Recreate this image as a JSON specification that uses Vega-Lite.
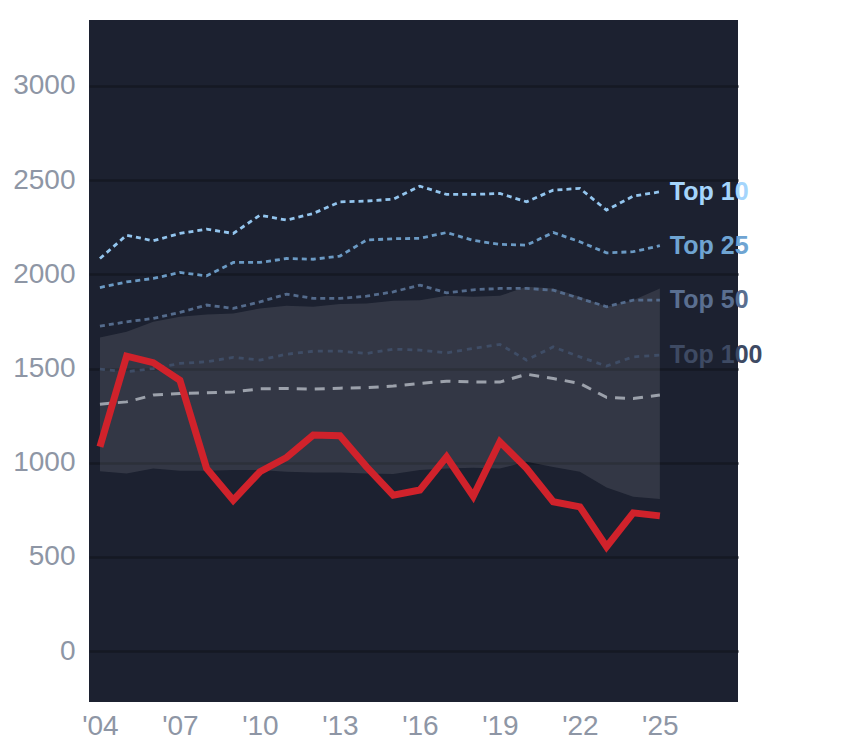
{
  "$schema": "https://vega.github.io/schema/vega-lite/v6.json",
  "width": 649,
  "height": 682,
  "autosize": {"type": "none"},
  "padding": {"left": 89, "top": 20, "right": 106, "bottom": 46},
  "background": "#ffffff",
  "config": {
    "view": {"fill": "#1c2130", "stroke": null},
    "font": "Liberation Sans",
    "axis": {"labelFont": "Liberation Sans", "labelFontSize": 28, "labelColor": "#8e96a5", "domain": false, "ticks": false, "title": null}
  },
  "data": {"values": [
    {"year": 2004, "top10": 2084, "top25": 1930, "top50": 1725, "top100": 1497, "median": 1311, "lo": 955, "hi": 1665, "value": 1085},
    {"year": 2005, "top10": 2208, "top25": 1960, "top50": 1748, "top100": 1483, "median": 1323, "lo": 943, "hi": 1695, "value": 1566},
    {"year": 2006, "top10": 2178, "top25": 1978, "top50": 1766, "top100": 1500, "median": 1359, "lo": 970, "hi": 1748, "value": 1531},
    {"year": 2007, "top10": 2217, "top25": 2010, "top50": 1798, "top100": 1527, "median": 1368, "lo": 957, "hi": 1775, "value": 1438},
    {"year": 2008, "top10": 2240, "top25": 1992, "top50": 1837, "top100": 1536, "median": 1371, "lo": 957, "hi": 1787, "value": 970},
    {"year": 2009, "top10": 2217, "top25": 2063, "top50": 1819, "top100": 1559, "median": 1376, "lo": 961, "hi": 1792, "value": 801},
    {"year": 2010, "top10": 2314, "top25": 2063, "top50": 1854, "top100": 1545, "median": 1392, "lo": 961, "hi": 1819, "value": 952},
    {"year": 2011, "top10": 2288, "top25": 2084, "top50": 1895, "top100": 1576, "median": 1394, "lo": 952, "hi": 1833, "value": 1028},
    {"year": 2012, "top10": 2323, "top25": 2080, "top50": 1872, "top100": 1592, "median": 1391, "lo": 948, "hi": 1828, "value": 1147},
    {"year": 2013, "top10": 2385, "top25": 2097, "top50": 1872, "top100": 1592, "median": 1396, "lo": 948, "hi": 1842, "value": 1143},
    {"year": 2014, "top10": 2389, "top25": 2182, "top50": 1884, "top100": 1580, "median": 1398, "lo": 943, "hi": 1845, "value": 978},
    {"year": 2015, "top10": 2399, "top25": 2189, "top50": 1907, "top100": 1603, "median": 1407, "lo": 940, "hi": 1860, "value": 828},
    {"year": 2016, "top10": 2468, "top25": 2191, "top50": 1943, "top100": 1598, "median": 1421, "lo": 961, "hi": 1863, "value": 855},
    {"year": 2017, "top10": 2424, "top25": 2222, "top50": 1902, "top100": 1583, "median": 1433, "lo": 970, "hi": 1886, "value": 1031},
    {"year": 2018, "top10": 2424, "top25": 2180, "top50": 1918, "top100": 1607, "median": 1429, "lo": 973, "hi": 1881, "value": 822},
    {"year": 2019, "top10": 2429, "top25": 2159, "top50": 1925, "top100": 1628, "median": 1428, "lo": 970, "hi": 1886, "value": 1111},
    {"year": 2020, "top10": 2385, "top25": 2155, "top50": 1925, "top100": 1545, "median": 1470, "lo": 1005, "hi": 1934, "value": 970},
    {"year": 2021, "top10": 2447, "top25": 2222, "top50": 1916, "top100": 1615, "median": 1447, "lo": 978, "hi": 1925, "value": 793},
    {"year": 2022, "top10": 2456, "top25": 2173, "top50": 1872, "top100": 1562, "median": 1421, "lo": 952, "hi": 1881, "value": 766},
    {"year": 2023, "top10": 2341, "top25": 2114, "top50": 1828, "top100": 1513, "median": 1347, "lo": 869, "hi": 1828, "value": 554},
    {"year": 2024, "top10": 2415, "top25": 2120, "top50": 1863, "top100": 1562, "median": 1341, "lo": 819, "hi": 1863, "value": 734},
    {"year": 2025, "top10": 2438, "top25": 2152, "top50": 1863, "top100": 1571, "median": 1359, "lo": 807, "hi": 1925, "value": 718}
  ]},
  "encoding": {
    "x": {
      "field": "year", "type": "quantitative",
      "scale": {"domain": [2003.59, 2027.93], "nice": false, "zero": false},
      "axis": {"values": [2004, 2007, 2010, 2013, 2016, 2019, 2022, 2025], "grid": false, "labelPadding": 10, "labelExpr": "\"'\" + substring(toString(datum.value), 2)"}
    }
  },
  "layer": [
    {
      "mark": {"type": "area", "fill": "#ffffff", "fillOpacity": 0.1},
      "encoding": {
        "y": {"field": "lo", "type": "quantitative",
          "scale": {"domain": [-270, 3350], "nice": false, "zero": false},
          "axis": {"values": [0, 500, 1000, 1500, 2000, 2500, 3000], "format": "d", "grid": true, "gridColor": "#151923", "gridWidth": 2.5, "labelPadding": 14}},
        "y2": {"field": "hi"}
      }
    },
    {
      "mark": {"type": "line", "stroke": "#3f4d66", "strokeWidth": 2.8, "strokeDash": [5, 5]},
      "encoding": {"y": {"field": "top100", "type": "quantitative"}}
    },
    {
      "mark": {"type": "line", "stroke": "#546b8c", "strokeWidth": 2.8, "strokeDash": [5, 4]},
      "encoding": {"y": {"field": "top50", "type": "quantitative"}}
    },
    {
      "mark": {"type": "line", "stroke": "#6b9ac4", "strokeWidth": 2.8, "strokeDash": [5, 4]},
      "encoding": {"y": {"field": "top25", "type": "quantitative"}}
    },
    {
      "mark": {"type": "line", "stroke": "#93c5ee", "strokeWidth": 2.8, "strokeDash": [5, 4]},
      "encoding": {"y": {"field": "top10", "type": "quantitative"}}
    },
    {
      "mark": {"type": "line", "stroke": "#9ca1ab", "strokeWidth": 3, "strokeDash": [10, 8]},
      "encoding": {"y": {"field": "median", "type": "quantitative"}}
    },
    {
      "mark": {"type": "line", "stroke": "#d0222b", "strokeWidth": 7, "strokeJoin": "miter", "strokeCap": "butt"},
      "encoding": {"y": {"field": "value", "type": "quantitative"}}
    },
    {
      "transform": [
        {"filter": "datum.year == 2025"},
        {"fold": ["top10", "top25", "top50", "top100"], "as": ["series", "v"]},
        {"calculate": "datum.series == 'top10' ? 'Top 10' : datum.series == 'top25' ? 'Top 25' : datum.series == 'top50' ? 'Top 50' : 'Top 100'", "as": "label"}
      ],
      "mark": {"type": "text", "align": "left", "baseline": "middle", "dx": 10, "fontSize": 25, "fontWeight": "bold", "font": "Liberation Sans"},
      "encoding": {
        "y": {"field": "v", "type": "quantitative"},
        "text": {"field": "label"},
        "color": {"field": "series", "type": "nominal", "legend": null,
          "scale": {"domain": ["top10", "top25", "top50", "top100"], "range": ["#a5d5fc", "#6fa4d2", "#5a6f90", "#3e4a63"]}}
      }
    }
  ]
}
